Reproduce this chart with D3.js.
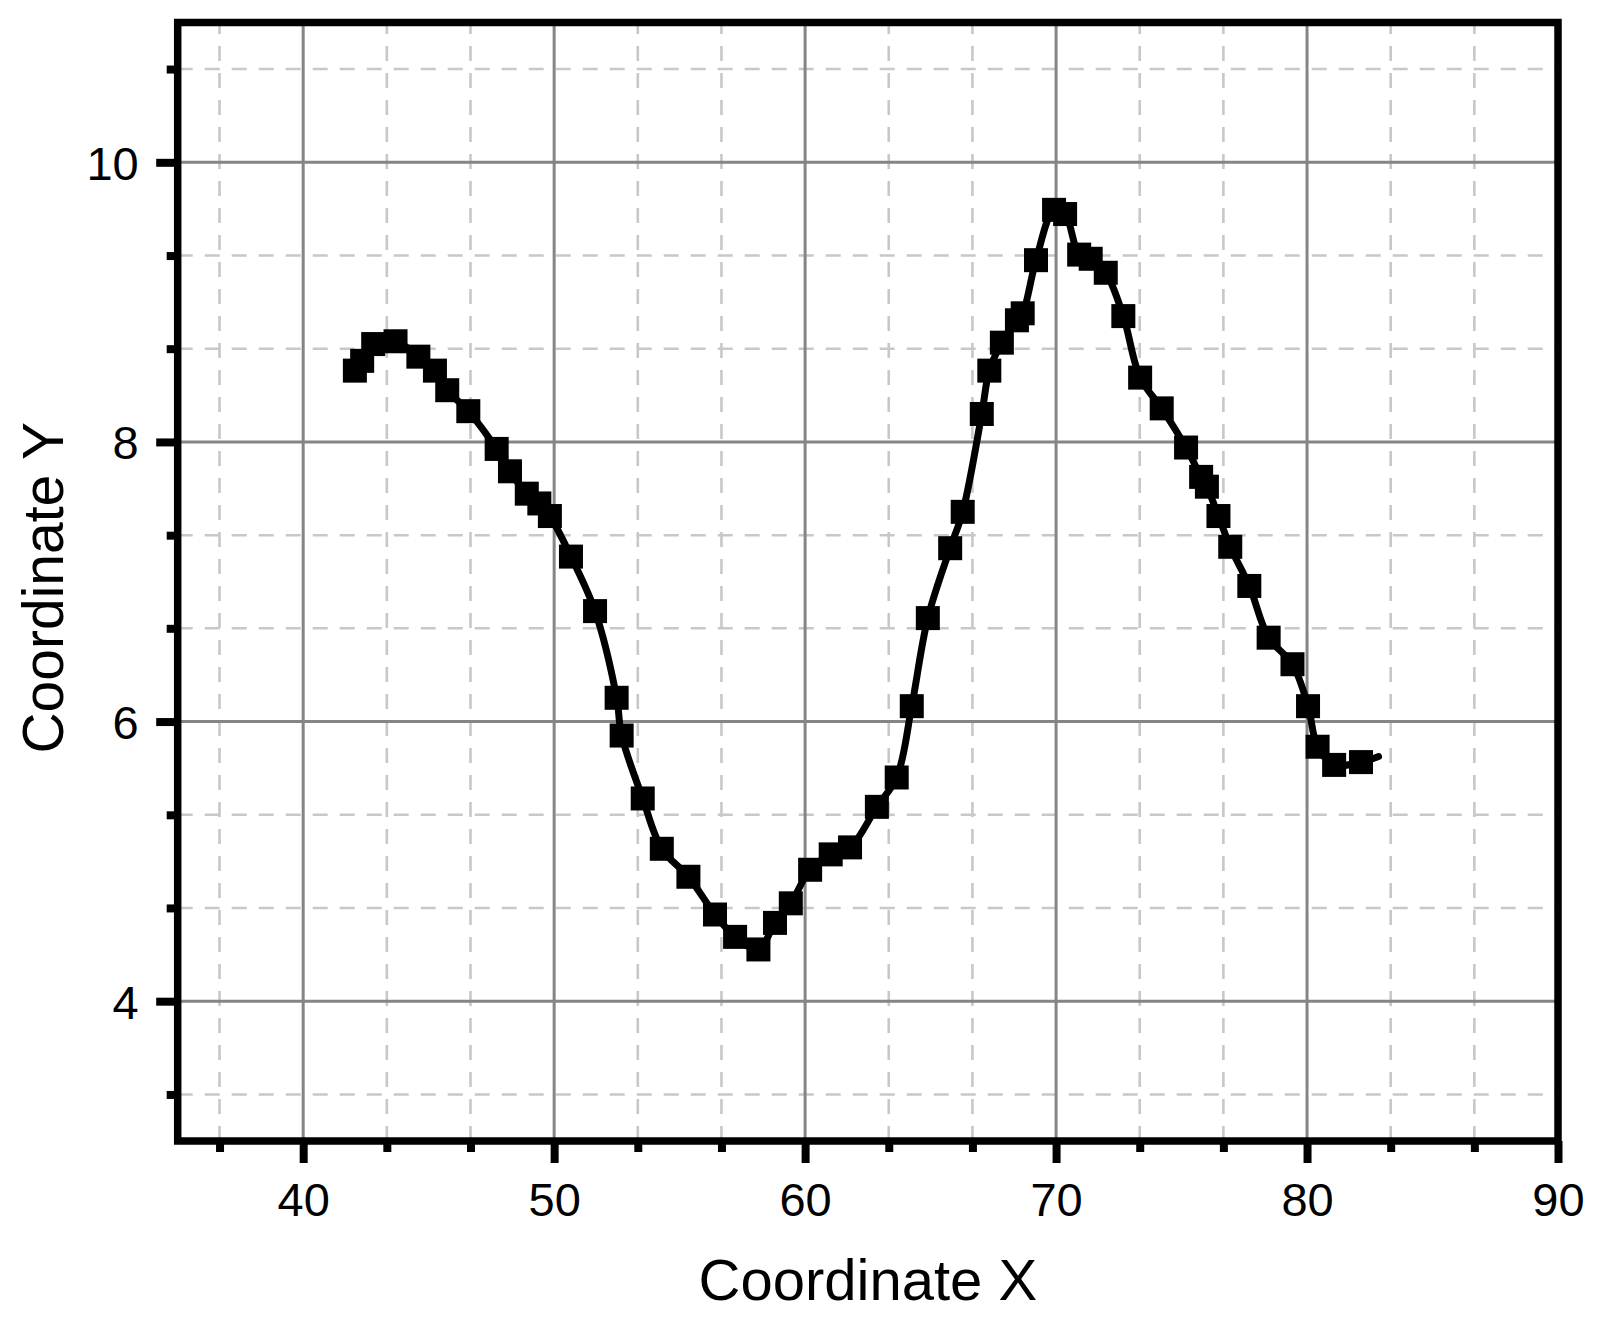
<!DOCTYPE html>
<html>
<head>
<meta charset="utf-8">
<script src="https://cdn.jsdelivr.net/npm/d3@7"></script>
<style>
  html, body { margin: 0; padding: 0; background: #fff; }
  svg { display: block; }
  text { font-family: "Liberation Sans", Arial, sans-serif; fill: #000; }
</style>
</head>
<body>
<svg id="chart" width="1600" height="1317"></svg>
<script>
// ---- data ----
const xValues = [42.06, 42.35, 42.79, 43.68, 44.59, 45.25, 45.74, 46.58, 47.71, 48.24,
  48.91, 49.41, 49.83, 50.67, 51.63, 52.49, 52.69, 53.53, 54.29, 55.35,
  56.41, 57.21, 58.14, 58.80, 59.43, 60.20, 61.02, 61.79, 62.86, 63.65,
  64.25, 64.89, 65.78, 66.28, 67.04, 67.34, 67.84, 68.44, 68.67, 69.20,
  69.92, 70.36, 70.92, 71.38, 71.98, 72.68, 73.35, 74.21, 75.18, 75.78,
  76.01, 76.47, 76.94, 77.70, 78.47, 79.42, 80.04, 80.42, 81.08, 82.15, 82.85];
const yValues = [8.51, 8.58, 8.70, 8.72, 8.61, 8.51, 8.37, 8.22, 7.95, 7.79,
  7.63, 7.56, 7.47, 7.18, 6.79, 6.17, 5.90, 5.45, 5.09, 4.89,
  4.62, 4.46, 4.37, 4.56, 4.70, 4.94, 5.05, 5.10, 5.39, 5.60,
  6.11, 6.74, 7.24, 7.50, 8.20, 8.51, 8.71, 8.87, 8.92, 9.30,
  9.66, 9.63, 9.34, 9.31, 9.21, 8.90, 8.46, 8.24, 7.96, 7.75,
  7.68, 7.47, 7.25, 6.97, 6.60, 6.41, 6.11, 5.82, 5.69, 5.71, 5.75];
const xMajorTicks = [40, 50, 60, 70, 80, 90];
const xMinorTicks = [36.667, 43.333, 46.667, 53.333, 56.667, 63.333, 66.667, 73.333, 76.667, 83.333, 86.667];
const yMajorTicks = [4, 6, 8, 10];
const yMinorTicks = [3.333, 4.667, 5.333, 6.667, 7.333, 8.667, 9.333, 10.667];
const xDomain = [35, 90];
const yDomain = [3, 11];
const xTitle = "Coordinate X";
const yTitle = "Coordinate Y";

// ---- layout ----
const L = 177.7, R = 1558, T = 22.5, B = 1141;
const svg = d3.select("#chart");
const x = d3.scaleLinear().domain(xDomain).range([L, R]);
const y = d3.scaleLinear().domain(yDomain).range([B, T]);

const grid = svg.append("g");
// minor dashed grid
grid.selectAll(".vminor").data(xMinorTicks).enter().append("line")
  .attr("x1", d => x(d)).attr("x2", d => x(d)).attr("y1", B).attr("y2", T)
  .attr("stroke", "#c8c8c8").attr("stroke-width", 2.6).attr("stroke-dasharray", "15,12");
grid.selectAll(".hminor").data(yMinorTicks).enter().append("line")
  .attr("y1", d => y(d)).attr("y2", d => y(d)).attr("x1", L).attr("x2", R)
  .attr("stroke", "#c8c8c8").attr("stroke-width", 2.6).attr("stroke-dasharray", "15,12");
// major solid grid
grid.selectAll(".vmajor").data(xMajorTicks).enter().append("line")
  .attr("x1", d => x(d)).attr("x2", d => x(d)).attr("y1", B).attr("y2", T)
  .attr("stroke", "#858585").attr("stroke-width", 3);
grid.selectAll(".hmajor").data(yMajorTicks).enter().append("line")
  .attr("y1", d => y(d)).attr("y2", d => y(d)).attr("x1", L).attr("x2", R)
  .attr("stroke", "#858585").attr("stroke-width", 3);

// data line
const pts = xValues.map((v, i) => [v, yValues[i]]);
const line = d3.line().x(d => x(d[0])).y(d => y(d[1])).curve(d3.curveCatmullRom.alpha(0.5));
svg.append("path").datum(pts).attr("d", line)
  .attr("fill", "none").attr("stroke", "#000").attr("stroke-width", 7)
  .attr("stroke-linecap", "round").attr("stroke-linejoin", "round");

// markers (last point is the line end without a marker)
const ms = 24;
svg.append("g").selectAll("rect").data(pts.slice(0, pts.length - 1)).enter().append("rect")
  .attr("x", d => x(d[0]) - ms / 2).attr("y", d => y(d[1]) - ms / 2)
  .attr("width", ms).attr("height", ms).attr("fill", "#000");

// axes ticks
const tickW = 8;
const xAxisMajor = d3.axisBottom(x).tickValues(xMajorTicks).tickSize(22).tickFormat(d3.format("d"));
const xAxisMinor = d3.axisBottom(x).tickValues(xMinorTicks).tickSize(11).tickFormat("");
const yAxisMajor = d3.axisLeft(y).tickValues(yMajorTicks).tickSize(21.5).tickFormat(d3.format("d"));
const yAxisMinor = d3.axisLeft(y).tickValues(yMinorTicks).tickSize(11).tickFormat("");

function styleAxis(g) {
  g.select(".domain").remove();
  g.selectAll(".tick line").attr("stroke", "#000").attr("stroke-width", tickW);
  g.selectAll(".tick text").style("font-family", '"Liberation Sans", Arial, sans-serif')
    .style("font-size", "47px").attr("fill", "#000");
}
const gxMinor = svg.append("g").attr("transform", `translate(0,${B})`).call(xAxisMinor).call(styleAxis);
const gxMajor = svg.append("g").attr("transform", `translate(0,${B})`).call(xAxisMajor).call(styleAxis);
gxMajor.selectAll(".tick text").attr("y", 75).attr("dy", 0);
const gyMinor = svg.append("g").attr("transform", `translate(${L},0)`).call(yAxisMinor).call(styleAxis);
const gyMajor = svg.append("g").attr("transform", `translate(${L},0)`).call(yAxisMajor).call(styleAxis);
gyMajor.selectAll(".tick text").attr("x", -39).attr("dy", "0.36em");

// frame
svg.append("rect").attr("x", L).attr("y", T).attr("width", R - L).attr("height", B - T)
  .attr("fill", "none").attr("stroke", "#000").attr("stroke-width", 7.5);

// titles
svg.append("text").attr("x", (L + R) / 2).attr("y", 1300)
  .attr("text-anchor", "middle").style("font-size", "58px").text(xTitle);
svg.append("text").attr("transform", `translate(63,${(T + B) / 2 + 6}) rotate(-90)`)
  .attr("text-anchor", "middle").style("font-size", "57px").text(yTitle);
</script>
</body>
</html>
